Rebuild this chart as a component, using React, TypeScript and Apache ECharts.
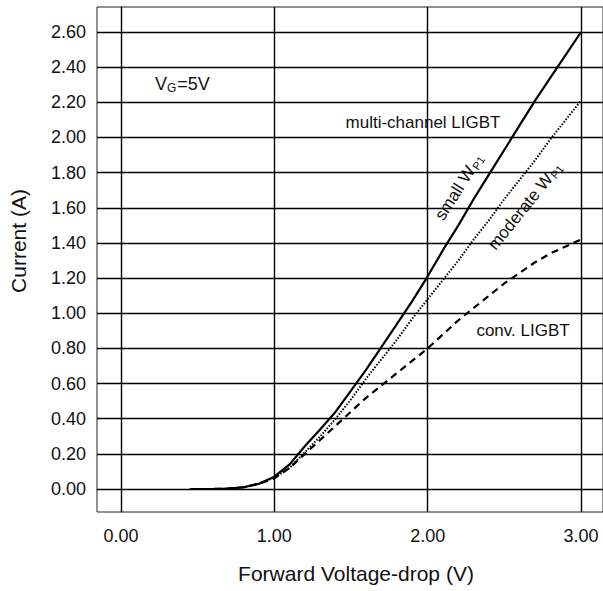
import React, { useEffect, useRef } from "react";
import * as echarts from "echarts";

const voltage = [0.45, 0.6, 0.7, 0.8, 0.9, 1.0, 1.1, 1.2, 1.3, 1.4, 1.5, 1.6, 1.7, 1.8, 1.9, 2.0, 2.1, 2.2, 2.3, 2.4, 2.5, 2.6, 2.7, 2.8, 2.9, 3.0];
const smallWp1 = [0, 0, 0.002, 0.01, 0.03, 0.07, 0.14, 0.245, 0.34, 0.44, 0.56, 0.68, 0.81, 0.94, 1.07, 1.21, 1.36, 1.5, 1.65, 1.79, 1.93, 2.07, 2.21, 2.34, 2.47, 2.6];
const moderateWp1 = [0, 0, 0.002, 0.01, 0.03, 0.065, 0.12, 0.21, 0.3, 0.4, 0.51, 0.63, 0.74, 0.85, 0.97, 1.08, 1.19, 1.3, 1.42, 1.53, 1.65, 1.76, 1.87, 1.99, 2.1, 2.21];
const convLigbt = [0, 0, 0.002, 0.01, 0.03, 0.06, 0.12, 0.2, 0.28, 0.36, 0.44, 0.52, 0.59, 0.66, 0.73, 0.8, 0.88, 0.96, 1.03, 1.1, 1.17, 1.23, 1.29, 1.34, 1.38, 1.42];

const xTicks = [0, 1, 2, 3];
const yTicks = [0, 0.2, 0.4, 0.6, 0.8, 1.0, 1.2, 1.4, 1.6, 1.8, 2.0, 2.2, 2.4, 2.6];

const FONT = "'Liberation Sans', Arial, Helvetica, sans-serif";

const pairs = (ys: number[]) => voltage.map((x, i) => [x, ys[i]]);

export default function App() {
  const ref = useRef<HTMLDivElement>(null);
  useEffect(() => {
    if (!ref.current) return;
    const chart = echarts.init(ref.current, undefined, { renderer: "svg" });
    const gridLine = { color: "#000", width: 1.4, type: "solid" as const };
    const subStyle = { fontSize: 11, fontFamily: FONT, fill: "#111", padding: [7, 0, 0, 1] };
    chart.setOption({
      animation: false,
      backgroundColor: "#fff",
      textStyle: { fontFamily: FONT },
      grid: { left: 97, top: 7, right: -1, bottom: 79, show: true, borderColor: "#222", borderWidth: 1, backgroundColor: "transparent" },
      xAxis: {
        type: "value",
        min: -0.156,
        max: 3.143,
        axisLine: { show: true, lineStyle: { color: "#222", width: 1 } },
        axisTick: { show: false },
        splitLine: { show: false },
        axisLabel: {
          customValues: xTicks,
          formatter: (v: number) => v.toFixed(2),
          fontSize: 18,
          color: "#111",
          fontFamily: FONT,
          margin: 15,
        },
      },
      yAxis: {
        type: "value",
        min: -0.1309,
        max: 2.7422,
        axisLine: { show: true, lineStyle: { color: "#222", width: 1 } },
        axisTick: { show: false },
        splitLine: { show: false },
        axisLabel: {
          customValues: yTicks,
          formatter: (v: number) => v.toFixed(2),
          fontSize: 18,
          color: "#111",
          fontFamily: FONT,
          margin: 11,
        },
      },
      series: [
        {
          name: "grid",
          type: "line",
          data: [],
          silent: true,
          markLine: {
            silent: true,
            symbol: ["none", "none"],
            label: { show: false },
            lineStyle: gridLine,
            emphasis: { disabled: true },
            data: [
              ...xTicks.map((v) => ({ xAxis: v })),
              ...yTicks.map((v) => ({ yAxis: v })),
            ],
          },
        },
        {
          name: "conv. LIGBT",
          type: "line",
          data: pairs(convLigbt),
          showSymbol: false,
          smooth: false,
          lineStyle: { color: "#000", width: 2.2, type: [7, 5] },
        },
        {
          name: "moderate Wp1",
          type: "line",
          data: pairs(moderateWp1),
          showSymbol: false,
          smooth: false,
          lineStyle: { color: "#000", width: 2, type: [1.5, 1.6] },
        },
        {
          name: "small Wp1",
          type: "line",
          data: pairs(smallWp1),
          showSymbol: false,
          smooth: false,
          lineStyle: { color: "#000", width: 2.2, type: "solid" },
        },
      ],
      graphic: [
        {
          type: "text",
          x: 356,
          y: 573,
          style: { text: "Forward Voltage-drop (V)", font: `21px ${FONT}`, fill: "#111", textAlign: "center", textVerticalAlign: "middle" },
        },
        {
          type: "text",
          x: 18,
          y: 241,
          rotation: Math.PI / 2,
          style: { text: "Current (A)", font: `21px ${FONT}`, fill: "#111", textAlign: "center", textVerticalAlign: "middle" },
        },
        {
          type: "text",
          x: 155,
          y: 84,
          style: {
            text: "V{sub|G}=5V",
            font: `18px ${FONT}`,
            fill: "#111",
            textAlign: "left",
            textVerticalAlign: "middle",
            rich: { sub: { fontSize: 12, fontFamily: FONT, fill: "#111", padding: [8, 1, 0, 0] } },
          },
        },
        {
          type: "text",
          x: 423,
          y: 122,
          style: { text: "multi-channel LIGBT", font: `17px ${FONT}`, fill: "#111", textAlign: "center", textVerticalAlign: "middle" },
        },
        {
          type: "text",
          x: 523,
          y: 330,
          style: { text: "conv. LIGBT", font: `17px ${FONT}`, fill: "#111", textAlign: "center", textVerticalAlign: "middle" },
        },
        {
          type: "text",
          x: 459,
          y: 187,
          rotation: (57.5 * Math.PI) / 180,
          style: {
            text: "small W{sub|P1}",
            font: `17px ${FONT}`,
            fill: "#111",
            backgroundColor: "#fff",
            textAlign: "center",
            textVerticalAlign: "middle",
            rich: { sub: subStyle },
          },
        },
        {
          type: "text",
          x: 525,
          y: 206,
          rotation: (51 * Math.PI) / 180,
          style: {
            text: "moderate W{sub|P1}",
            font: `17px ${FONT}`,
            fill: "#111",
            backgroundColor: "#fff",
            textAlign: "center",
            textVerticalAlign: "middle",
            rich: { sub: subStyle },
          },
        },
      ],
    });
    return () => chart.dispose();
  }, []);
  return <div ref={ref} style={{ position: "absolute", left: 0, top: 0, width: 603, height: 591 }} />;
}
